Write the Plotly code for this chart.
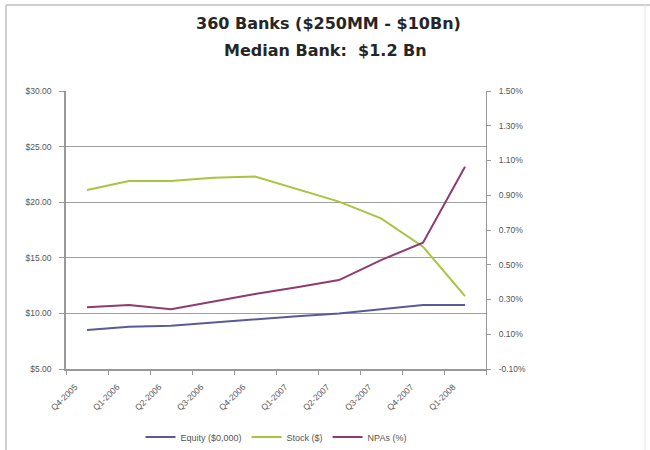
import plotly.graph_objects as go

quarters = ["Q4-2005", "Q1-2006", "Q2-2006", "Q3-2006", "Q4-2006",
            "Q1-2007", "Q2-2007", "Q3-2007", "Q4-2007", "Q1-2008"]
equity = [8.5, 8.8, 8.9, 9.2, 9.5, 9.75, 10.0, 10.4, 10.75, 10.75]
stock = [21.1, 21.9, 21.9, 22.2, 22.3, 21.2, 20.05, 18.55, 16.0, 11.55]
npas = [0.255, 0.268, 0.244, 0.287, 0.332, 0.37, 0.412, 0.527, 0.627, 1.064]

left_ticks = [5, 10, 15, 20, 25, 30]
right_ticks = [-0.1, 0.1, 0.3, 0.5, 0.7, 0.9, 1.1, 1.3, 1.5]

fig = go.Figure()
fig.add_trace(go.Scatter(x=quarters, y=equity, name="Equity ($0,000)", mode="lines",
                         line=dict(color="#5a5a98", width=2), yaxis="y"))
fig.add_trace(go.Scatter(x=quarters, y=stock, name="Stock ($)", mode="lines",
                         line=dict(color="#a9c53f", width=2), yaxis="y"))
fig.add_trace(go.Scatter(x=quarters, y=npas, name="NPAs (%)", mode="lines",
                         line=dict(color="#8e3c6e", width=2), yaxis="y2"))

axis_font = dict(family="Liberation Sans, Arial, sans-serif", size=8.5, color="#555555")
title_font = dict(family="DejaVu Sans, sans-serif", size=16, color="#262626")

fig.update_layout(
    width=650, height=450,
    margin=dict(l=66, r=164, t=91, b=81, autoexpand=False),
    paper_bgcolor="white", plot_bgcolor="white",
    showlegend=True,
    legend=dict(orientation="h", x=0.5, xanchor="center", y=-0.245, yanchor="middle",
                font=dict(family="Liberation Sans, Arial, sans-serif", size=9, color="#555555"),
                bgcolor="rgba(0,0,0,0)", itemwidth=30, tracegroupgap=0),
    xaxis=dict(type="category", range=[-0.5, 9.5], tickangle=-45, tickson="boundaries",
               ticks="outside", ticklen=4, tickcolor="#999999",
               ticklabelshift=-12, ticklabelstandoff=8,
               showline=True, linecolor="#999999", linewidth=1.5,
               showgrid=False, tickfont=axis_font, zeroline=False, automargin=False),
    yaxis=dict(range=[5, 30], tickvals=left_ticks, tickformat="$.2f",
               ticks="outside", ticklen=5, tickcolor="#999999", ticklabelstandoff=6,
               showline=True, linecolor="#999999", linewidth=1.5,
               showgrid=True, gridcolor="#a0a0a0", gridwidth=1,
               tickfont=axis_font, zeroline=False, automargin=False),
    yaxis2=dict(range=[-0.1, 1.5], tickvals=right_ticks,
                ticktext=[f"{v:.2f}%" for v in right_ticks],
                overlaying="y", side="right",
                ticks="outside", ticklen=4, tickcolor="#999999", ticklabelstandoff=6,
                showline=True, linecolor="#999999", linewidth=1,
                showgrid=False, tickfont=axis_font, zeroline=False, automargin=False),
    annotations=[
        dict(text="<b>360 Banks ($250MM - $10Bn)</b>", xref="paper", yref="paper",
             x=(328 - 66) / 420, y=(369 - 24) / 278, xanchor="center", yanchor="middle",
             showarrow=False, font=title_font),
        dict(text="<b>Median Bank:  $1.2 Bn</b>", xref="paper", yref="paper",
             x=(325 - 66) / 420, y=(369 - 50) / 278, xanchor="center", yanchor="middle",
             showarrow=False, font=title_font),
    ],
    shapes=[
        dict(type="line", xref="paper", yref="paper",
             x0=(6 - 66) / 420, x1=(6 - 66) / 420, y0=(369 - 5) / 278, y1=(369 - 452) / 278,
             line=dict(color="#cfcfcf", width=2)),
        dict(type="line", xref="paper", yref="paper",
             x0=(6 - 66) / 420, x1=(652 - 66) / 420, y0=(369 - 5) / 278, y1=(369 - 5) / 278,
             line=dict(color="#cfcfcf", width=2)),
        dict(type="line", xref="paper", yref="paper",
             x0=(645 - 66) / 420, x1=(645 - 66) / 420, y0=(369 - 5) / 278, y1=(369 - 452) / 278,
             line=dict(color="#e6e6e6", width=1)),
    ],
)

fig.write_html("out.html", config={"displayModeBar": False},
               post_script="document.body.style.margin='0px';document.body.style.overflow='hidden';")
